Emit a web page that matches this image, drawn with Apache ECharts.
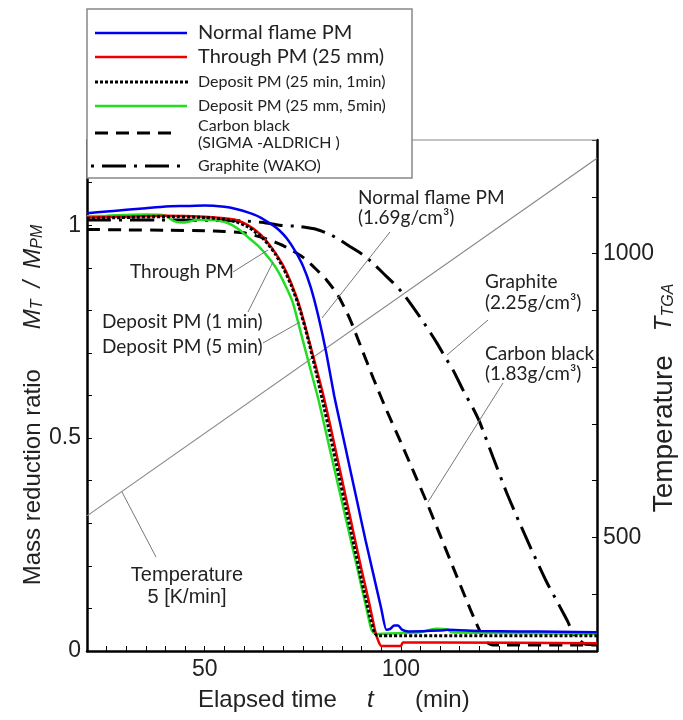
<!DOCTYPE html>
<html><head><meta charset="utf-8">
<script src="https://cdn.jsdelivr.net/npm/echarts@6/dist/echarts.min.js"></script>
<style>html,body{margin:0;padding:0;background:#fff}#c{width:683px;height:720px}</style>
</head><body><div id="c"></div><script>
// ---- data (time in min, mass ratio) ----
const normalFlamePM = [[20,1.028],[25,1.032],[30,1.036],[35,1.040],[40,1.044],[45,1.045],[50,1.046],[55,1.043],[58,1.038],[61,1.030],[64,1.019],[67,1.002],[69,0.988],[71,0.968],[73,0.94],[75,0.905],[77,0.855],[79,0.785],[81,0.70],[83,0.60],[85,0.515],[87,0.43],[89,0.345],[91,0.26],[93,0.18],[95,0.10],[96.3,0.05],[97.3,0.052],[98.3,0.06],[99.3,0.06],[100.3,0.05],[102,0.046],[110,0.048],[112,0.05],[120,0.047],[130,0.046],[140,0.045],[150,0.044]];
const throughPM = [[20,1.018],[30,1.02],[40,1.022],[50,1.02],[55,1.016],[58,1.012],[61,1.0],[64,0.98],[66,0.96],[68,0.935],[70,0.905],[72,0.865],[74,0.815],[76,0.75],[78,0.68],[80,0.61],[82,0.53],[84,0.445],[86,0.36],[88,0.275],[90,0.19],[92,0.11],[93.5,0.045],[94.2,0.025],[95,0.012],[100,0.012],[100.5,0.02],[110,0.02],[150,0.018]];
const deposit1min = [[20,1.016],[30,1.018],[40,1.02],[50,1.018],[55,1.014],[58,1.008],[61,0.996],[64,0.976],[66,0.957],[68,0.932],[70,0.9],[72,0.86],[74,0.81],[76,0.745],[78,0.67],[80,0.59],[82,0.505],[84,0.42],[86,0.335],[88,0.25],[90,0.165],[92,0.085],[93.2,0.045],[94,0.036],[150,0.036]];
const deposit5min = [[20,1.021],[25,1.022],[30,1.024],[35,1.025],[40,1.023],[42,1.01],[44,1.006],[46,1.008],[48,1.013],[52,1.012],[55,1.008],[57,1.0],[59,0.988],[61,0.972],[64,0.948],[67,0.915],[69,0.887],[71,0.85],[72.5,0.817],[75,0.73],[77,0.66],[79,0.59],[81,0.51],[83,0.43],[85,0.35],[87,0.27],[89,0.19],[91,0.11],[92.5,0.05],[93.5,0.04],[100,0.042],[105,0.044],[109,0.052],[112,0.05],[113,0.044],[120,0.043],[150,0.04]];
const carbonBlack = [[20,0.99],[30,0.989],[40,0.988],[50,0.987],[55,0.985],[60,0.982],[65,0.97],[70,0.952],[75,0.925],[78,0.9],[81,0.872],[84,0.835],[87,0.78],[90,0.71],[93,0.64],[96,0.573],[100,0.49],[103.3,0.42],[106.7,0.347],[110,0.272],[113.3,0.197],[116.7,0.12],[119,0.07],[120.5,0.04],[122,0.02],[123.5,0.014],[150,0.014]];
const graphite = [[20,1.012],[40,1.012],[60,1.01],[65,1.006],[69,1.0],[74,0.997],[78.6,0.99],[82,0.978],[84.5,0.965],[87,0.95],[90.4,0.93],[93,0.91],[95.5,0.887],[98,0.865],[100.5,0.84],[102.7,0.813],[104.9,0.784],[107,0.755],[109.2,0.723],[111.3,0.69],[113.3,0.66],[116,0.61],[118.4,0.57],[120.2,0.535],[123.5,0.455],[127,0.371],[130.3,0.3],[133.7,0.23],[137,0.165],[140.6,0.103],[142.5,0.07],[143.9,0.042],[146.4,0.019],[148,0.015],[150,0.015]];
const temperature = [[20,538],[150,1168]];
const xLabels = [50,100];
const yLeftLabels = [0,0.5,1];
const yRightLabels = [500,1000];

const AX = 'Liberation Sans', AN = 'Lato';
const chart = echarts.init(document.getElementById('c'), null, {renderer:'canvas'});
function only(list){return v=>{for(const l of list){if(Math.abs(v-l)<1e-6)return String(l);}return '';};}
const axLine = {show:true, lineStyle:{color:'#000', width:2.5}};
const tick = {show:true, inside:true, length:5, lineStyle:{color:'#000', width:1}};
function txt(x,y,text,font,align,extra){return Object.assign({type:'text',x:x,y:y,z:100,style:{text:text,font:font,fill:'#222',align:align||'left',textAlign:align||'left',verticalAlign:'middle',textVerticalAlign:'middle'}},extra||{});}
function ln(x1,y1,x2,y2,color,w,dash){return {type:'line',z:100,shape:{x1:x1,y1:y1,x2:x2,y2:y2},style:{stroke:color,lineWidth:w,lineDash:dash||null}};}

const LF = '20px '+AN, LS = '16px '+AN, AF = '19px '+AN;
const richBase = (sz)=>({a:{fontSize:24,fontFamily:AX,fill:'#222',color:'#222'},A:{fontSize:sz,fontFamily:AX,fill:'#222',color:'#222'},g:{width:40},h:{width:12},i:{fontSize:24,fontFamily:AX,fontStyle:'italic',fill:'#222',color:'#222'},s:{fontSize:16,fontFamily:AX,fontStyle:'italic',fill:'#222',color:'#222',padding:[10,0,0,0]}});
const graphic = [
  {type:'rect',z:90,shape:{x:87,y:9,width:325,height:169},style:{fill:'#fff',stroke:'#888',lineWidth:1.5}},
  ln(95,33,187,33,'#0000ee',2.5), txt(198,33,'Normal flame PM',LF),
  ln(95,57,187,57,'#ee0000',2.5), txt(198,57,'Through PM (25 mm)',LF),
  ln(95,82,189,82,'#000',3,[3,2]), txt(198,82,'Deposit PM (25 min, 1min)',LS),
  ln(95,106,187,106,'#22dd22',2.5), txt(198,106,'Deposit PM (25 mm, 5min)',LS),
  ln(95,133,178,133,'#000',3,[13,8]), txt(198,126,'Carbon black',LS), txt(198,143,'(SIGMA -ALDRICH )',LS),
  ln(91,166,181,166,'#000',3,[3,8,24,8]), txt(198,166,'Graphite (WAKO)',LS),
  ln(412,140,597,140,'#888',1.2),
  // annotations
  txt(358,198,'Normal flame PM',AF), txt(358,218,'(1.69g/cm³)',AF),
  txt(130,272,'Through PM',AF),
  txt(102,322,'Deposit PM (1 min)',AF), txt(102,347,'Deposit PM (5 min)',AF),
  txt(485,282,'Graphite',AF), txt(485,303,'(2.25g/cm³)',AF),
  txt(485,354,'Carbon black',AF), txt(485,374,'(1.83g/cm³)',AF),
  txt(187,575,'Temperature','20px '+AX,'center'), txt(187,597,'5 [K/min]','20px '+AX,'center'),
  ln(233,272,268,250,'#777',1), ln(248,312,273,262,'#777',1), ln(263,343,300,322,'#777',1),
  ln(390,232,322,318,'#777',1), ln(488,320,447,355,'#777',1), ln(503,383,428,502,'#777',1),
  ln(122,492,156,557,'#777',1),
  // axis titles
  {type:'text',x:33,y:405,rotation:Math.PI/2,z:100,style:{text:'{a|Mass reduction ratio}{g|}{i|M}{s|T}{h|}{i|/}{h|}{i|M}{s|PM}',align:'center',textAlign:'center',verticalAlign:'middle',textVerticalAlign:'middle',fill:'#222',rich:richBase(24)}},
  {type:'text',x:664,y:398,rotation:Math.PI/2,z:100,style:{text:'{A|Temperature}{h|}{h|}{i|T}{s|TGA}',align:'center',textAlign:'center',verticalAlign:'middle',textVerticalAlign:'middle',fill:'#222',rich:richBase(28)}},
  txt(198,700,'Elapsed time','24px '+AX), txt(367,700,'t','italic 24px '+AX), txt(415,700,'(min)','24px '+AX)
];

const mk = (name,data,color,w,type,z,yi,sm)=>({name:name,type:'line',data:data,yAxisIndex:yi||0,showSymbol:false,symbol:'none',z:z,silent:true,animation:false,
  smooth:sm===undefined?0.2:sm, lineStyle:{color:color,width:w,type:type||'solid'}});

chart.setOption({
  animation:false,
  grid:{left:87,right:86,top:140,bottom:69},
  xAxis:{type:'value',min:20,max:150,interval:5,axisLine:axLine,axisTick:tick,splitLine:{show:false},
    axisLabel:{formatter:only(xLabels),fontFamily:AX,fontSize:23,color:'#222',margin:7}},
  yAxis:[
    {type:'value',min:0,max:1.2,interval:0.1,axisLine:axLine,axisTick:tick,splitLine:{show:false},
      axisLabel:{formatter:only(yLeftLabels),fontFamily:AX,fontSize:23,color:'#222',margin:6}},
    {type:'value',position:'right',min:300,max:1200,interval:100,axisLine:axLine,axisTick:tick,splitLine:{show:false},
      axisLabel:{formatter:only(yRightLabels),fontFamily:AX,fontSize:23,color:'#222',margin:6}}
  ],
  series:[
    mk('Temperature',temperature,'#888',1.2,'solid',1,1,false),
    mk('Carbon black',carbonBlack,'#000',3,[13,8],2),
    mk('Graphite',graphite,'#000',3,[24,8,3,8],2),
    mk('Deposit PM (25 mm, 5min)',deposit5min,'#22dd22',2.5,'solid',3),
    mk('Through PM (25 mm)',throughPM,'#ee0000',2.5,'solid',4),
    mk('Deposit PM (25 min, 1min)',deposit1min,'#000',3,[3,2],5),
    mk('Normal flame PM',normalFlamePM,'#0000ee',2.5,'solid',6)
  ],
  graphic:graphic
});
</script></body></html>
